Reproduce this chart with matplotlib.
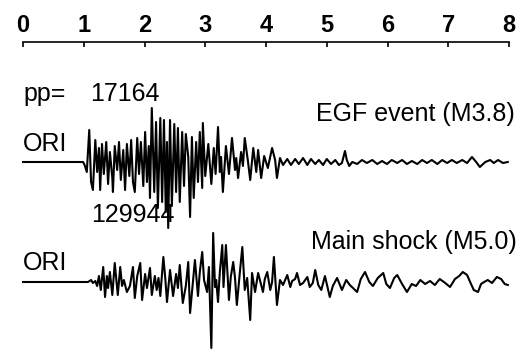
import matplotlib
matplotlib.use('Agg')
import matplotlib.pyplot as plt

plt.rcParams['font.family'] = ['Liberation Sans', 'DejaVu Sans']

# time axis (s)
sec_ticks = [0, 1, 2, 3, 4, 5, 6, 7, 8]

# EGF event (M3.8): times of turning points (s) and amplitudes (arb.)
egf_t = [0.00, 0.99, 1.02, 1.05, 1.09, 1.12, 1.15, 1.19, 1.22, 1.25,
         1.27, 1.30, 1.33, 1.37, 1.40, 1.43, 1.47, 1.48, 1.51, 1.55,
         1.58, 1.61, 1.65, 1.68, 1.71, 1.75, 1.78, 1.81, 1.84, 1.88,
         1.91, 1.94, 1.98, 2.01, 2.04, 2.07, 2.09, 2.12, 2.16, 2.19,
         2.22, 2.26, 2.29, 2.32, 2.35, 2.37, 2.39, 2.42, 2.45, 2.49,
         2.52, 2.55, 2.58, 2.62, 2.65, 2.68, 2.72, 2.75, 2.78, 2.81,
         2.85, 2.88, 2.91, 2.95, 2.96, 3.00, 3.05, 3.10, 3.14, 3.17,
         3.21, 3.24, 3.26, 3.29, 3.34, 3.39, 3.44, 3.49, 3.51, 3.54,
         3.59, 3.62, 3.65, 3.70, 3.74, 3.79, 3.84, 3.87, 3.92, 3.97,
         4.03, 4.10, 4.15, 4.18, 4.23, 4.28, 4.35, 4.41, 4.48, 4.54,
         4.61, 4.68, 4.74, 4.81, 4.87, 4.94, 5.00, 5.07, 5.14, 5.20,
         5.25, 5.30, 5.33, 5.37, 5.42, 5.50, 5.58, 5.66, 5.75, 5.83,
         5.91, 5.99, 6.07, 6.16, 6.24, 6.32, 6.40, 6.49, 6.57, 6.65,
         6.73, 6.82, 6.90, 6.98, 7.06, 7.14, 7.23, 7.31, 7.39, 7.46,
         7.52, 7.61, 7.69, 7.75, 7.82, 7.90, 7.98]
egf_amp = [0, 0, -4, -10, 32, -20, -28, 22, -10, 14,
           -28, 18, -12, 20, -22, 10, -16, -30, 16, -8,
           20, -18, 12, -28, 18, -14, 22, -20, -30, 24,
           -12, 20, -24, 30, -20, 16, -36, 54, -30, 40,
           -46, 44, -40, 42, -50, 20, -66, 42, -44, 38,
           -30, 34, -40, 30, -24, 28, 5, -55, 25, -36,
           20, -20, 30, -26, 39, -14, 18, -22, 14, -12,
           35, -10, 5, -30, 16, -12, 24, -8, 4, -16,
           10, -4, 24, 2, -18, 14, -10, 12, -16, 6,
           -6, 14, 2, -16, 4, -3, 3, -3, 3, -2,
           4, -3, 3, -2, 2, -3, 3, -2, 2, -3,
           -1, 11, 2, -4, 0, -2, 2, -1, 2, -2,
           1, -2, 2, -1, 2, -2, 1, -2, 2, -1,
           2, -2, 2, -1, 2, -1, 2, -1, 5, 0,
           -5, 0, 2, -1, 2, -1, 0]

# Main shock (M5.0)
main_t = [0.00, 1.07, 1.12, 1.15, 1.19, 1.22, 1.25, 1.28, 1.32, 1.35,
          1.38, 1.40, 1.43, 1.47, 1.51, 1.56, 1.60, 1.63, 1.66, 1.71,
          1.76, 1.81, 1.84, 1.88, 1.93, 1.96, 2.01, 2.04, 2.09, 2.12,
          2.17, 2.20, 2.23, 2.26, 2.31, 2.34, 2.37, 2.42, 2.47, 2.52,
          2.55, 2.58, 2.63, 2.68, 2.72, 2.75, 2.80, 2.83, 2.88, 2.91,
          2.95, 2.98, 3.03, 3.06, 3.10, 3.13, 3.16, 3.18, 3.21, 3.24,
          3.28, 3.30, 3.34, 3.39, 3.42, 3.46, 3.49, 3.52, 3.57, 3.61,
          3.65, 3.69, 3.74, 3.77, 3.82, 3.87, 3.90, 3.95, 3.98, 4.02,
          4.07, 4.10, 4.13, 4.18, 4.23, 4.28, 4.35, 4.40, 4.43, 4.48,
          4.51, 4.56, 4.61, 4.68, 4.72, 4.77, 4.81, 4.86, 4.91, 4.97,
          5.05, 5.10, 5.17, 5.25, 5.32, 5.38, 5.50, 5.56, 5.63, 5.70,
          5.76, 5.84, 5.93, 5.98, 6.04, 6.11, 6.16, 6.24, 6.32, 6.40,
          6.47, 6.54, 6.62, 6.70, 6.78, 6.86, 6.95, 7.03, 7.11, 7.18,
          7.24, 7.31, 7.36, 7.42, 7.49, 7.54, 7.59, 7.65, 7.72, 7.80,
          7.87, 7.93, 7.98]
main_amp = [0, 0, 2, -1, 1, -4, 6, -8, 15, -15,
            6, -6, 10, -13, 19, -13, 15, -4, 2, -10,
            -4, 15, -16, 6, 19, -18, 8, -6, 14, -13,
            6, -8, 4, -14, 25, 5, -20, 12, -14, 8,
            -6, 17, -21, -4, 20, -31, 2, 22, -14, 10,
            30, 2, -10, 15, -66, 49, -5, 2, -20, 10,
            37, -5, 37, -18, 5, 20, 4, -23, 10, 35,
            -8, 4, -38, 9, -10, 9, 2, -10, 3, 10,
            -8, 0, 25, -23, 2, -3, 7, -5, 1, 3,
            9, -3, -1, 5, -5, -1, 12, -3, -8, 6,
            -15, -4, 4, -8, 2, -3, -10, 3, 10, 0,
            -4, 4, 9, -2, -6, 4, 7, -2, -10, -2,
            -4, 2, -2, 1, -3, 3, -1, -5, 3, 6,
            10, 7, 0, -8, -10, -2, 0, 2, -1, 5,
            3, -2, -3]

fig = plt.figure(figsize=(5.22, 3.5), dpi=100)
ax = fig.add_axes([0, 0, 1, 1])

egf_base = 188
main_base = 68
ax.plot(egf_t, [egf_base + a for a in egf_amp], color='black', lw=1.5)
ax.plot(main_t, [main_base + a for a in main_amp], color='black', lw=1.5)

ax.set_xlim(-0.379, 8.214)
ax.set_ylim(0, 350)

for s in ['left', 'right', 'bottom']:
    ax.spines[s].set_visible(False)
ax.spines['top'].set_position(('data', 308.5))
ax.spines['top'].set_bounds(0, 8)
ax.spines['top'].set_linewidth(1.2)
ax.xaxis.set_ticks_position('top')
ax.set_xticks(sec_ticks)
ax.set_xticklabels([str(v) for v in sec_ticks])
ax.tick_params(axis='x', direction='in', length=3.6, width=1.2, pad=3.5,
               labelsize=17)
for lbl in ax.get_xticklabels():
    lbl.set_fontweight('bold')
ax.set_yticks([])

fs = 18
ax.text(0, 248.5, 'pp=', fontsize=fs, va='baseline')
ax.text(1.10, 249, '17164', fontsize=fs, va='baseline')
ax.text(1.12, 128, '129944', fontsize=fs, va='baseline')
ax.text(0, 199, 'ORI', fontsize=fs, va='baseline')
ax.text(0, 80, 'ORI', fontsize=fs, va='baseline')
ax.text(8.10, 229, 'EGF event (M3.8)', fontsize=fs, va='baseline', ha='right')
ax.text(8.13, 101, 'Main shock (M5.0)', fontsize=fs, va='baseline', ha='right')

fig.savefig('out.png', dpi=100)
